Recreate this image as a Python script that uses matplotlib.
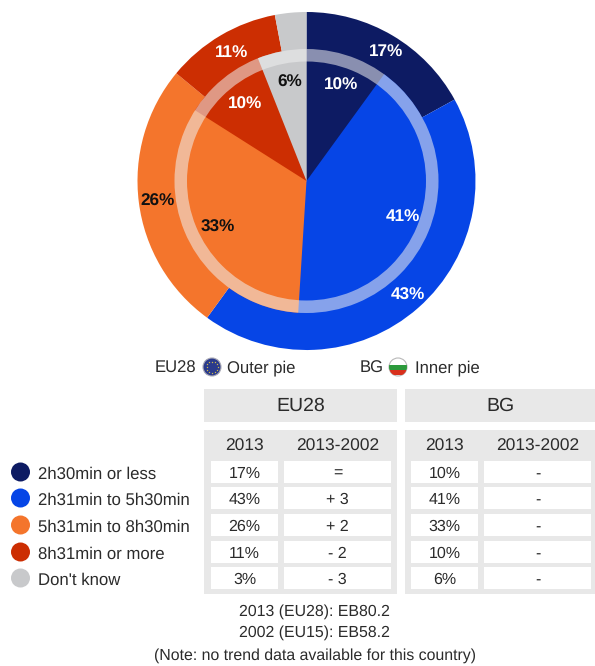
import numpy as np
import matplotlib
matplotlib.use('Agg')
import matplotlib.pyplot as plt
from matplotlib.patches import Rectangle, Circle, Wedge

plt.rcParams['font.family'] = ['Liberation Sans', 'DejaVu Sans']
plt.rcParams['text.hinting'] = 'no_hinting'

# Data
categories = ['2h30min or less', '2h31min to 5h30min', '5h31min to 8h30min', '8h31min or more', "Don't know"]
colors = ['#0d1b63', '#0645e6', '#f4752c', '#cc2e02', '#c8c9cb']
eu_values = [17, 43, 26, 11, 3]
bg_values = [10, 41, 33, 10, 6]
eu_trend = ['=', '+ 3', '+ 2', '- 2', '- 3']
bg_trend = ['-', '-', '-', '-', '-']
eu_labels = ['17%', '43%', '26%', '11%', '']
bg_labels = ['10%', '41%', '33%', '10%', '6%']
label_colors = ['white', 'white', '#111111', 'white', '#111111']
notes = ['2013 (EU28): EB80.2', '2002 (EU15): EB58.2', '(Note: no trend data available for this country)']

W, H = 595, 666
fig = plt.figure(figsize=(W / 100, H / 100), dpi=100)
ax = fig.add_axes([0, 0, 1, 1])
ax.set_xlim(0, W)
ax.set_ylim(H, 0)
ax.axis('off')

text_col = '#2b2b2b'
grey = '#e8e8e8'
cx, cy = 306.5, 181
outer_r, inner_r = 169, 132


def draw_pie(values, radius):
    # y axis is flipped, so angles run clockwise from 12 o'clock
    start = -90
    for v, c in zip(values, colors):
        end = start + v / sum(values) * 360
        ax.add_patch(Wedge((cx, cy), radius, start, end, fc=c, ec='none'))
        start = end


def pie_label(txt, x, y, col):
    ax.text(x, y, txt, color=col, fontsize=12.3, fontweight='bold', ha='center', va='center')


draw_pie(eu_values, outer_r)
draw_pie(bg_values, inner_r)
# pale ring around the inner pie
ax.add_patch(Wedge((cx, cy), inner_r, 0, 360, width=12.5, fc='#f0f0f0', ec='none', alpha=0.55))

eu_pos = [(386, 51), (408, 295), (158, 201), (232, 52)]
for txt, (x, y), col in zip(eu_labels, eu_pos, label_colors):
    pie_label(txt, x, y, col)
bg_pos = [(341, 85), (403, 216), (218, 227), (245, 104), (290, 82)]
for txt, (x, y), col in zip(bg_labels, bg_pos, label_colors):
    pie_label(txt, x, y, col)

# pie key
ax.text(155, 368, 'EU28', fontsize=12, color=text_col, va='center')
ax.add_patch(Circle((212, 367), 9, fc='#2a3a8c', ec='#a8a8b4', lw=0.8))
for a in np.arange(0, 360, 30):
    ax.plot(212 + 5.5 * np.cos(np.radians(a)), 367 + 5.5 * np.sin(np.radians(a)), 'o', ms=1, color='#c9b84a', mew=0)
ax.text(227, 368, 'Outer pie', fontsize=12, color=text_col, va='center')
ax.text(360, 368, 'BG', fontsize=12, color=text_col, va='center')
flag = Circle((398, 367), 9, fc='white', ec='#b8b8b8', lw=0.8)
ax.add_patch(flag)
for y0, c in [(364.5, '#2c9a3c'), (369.5, '#d8301c')]:
    stripe = Rectangle((388, y0), 20, 5.5, fc=c, ec='none')
    ax.add_patch(stripe)
    stripe.set_clip_path(flag)
ax.text(415, 368, 'Inner pie', fontsize=12, color=text_col, va='center')

# table panels
for x0, x1, name in [(204, 397, 'EU28'), (405, 595, 'BG')]:
    ax.add_patch(Rectangle((x0, 389), x1 - x0, 33, fc=grey, ec='none'))
    ax.add_patch(Rectangle((x0, 430), x1 - x0, 164, fc=grey, ec='none'))
    ax.text((x0 + x1) / 2, 406, name, fontsize=14, color=text_col, ha='center', va='center')

row_y = [472, 498, 525, 552, 578]
columns = [
    (211, 278, [f'{v}%' for v in eu_values]),
    (284, 391, eu_trend),
    (411, 478, [f'{v}%' for v in bg_values]),
    (484, 591, bg_trend),
]
for (x0, x1, vals), head in zip(columns, ['2013', '2013-2002', '2013', '2013-2002']):
    ax.text((x0 + x1) / 2, 446, head, fontsize=12.5, color=text_col, ha='center', va='center')
    for y, v in zip(row_y, vals):
        ax.add_patch(Rectangle((x0, y - 11), x1 - x0, 22, fc='white', ec='none'))
        ax.text((x0 + x1) / 2, y + 2, v, fontsize=11.5, color=text_col, ha='center', va='center')

# legend
for y, c, name in zip(row_y, colors, categories):
    ax.add_patch(Circle((20.5, y), 9.5, fc=c, ec='none'))
    ax.text(38, y + 2, name, fontsize=12.1, color=text_col, va='center')

# notes
for y, n in zip([612, 633, 656], notes):
    ax.text(314.5, y, n, fontsize=11.4, color=text_col, ha='center', va='center')

fig.savefig('out.png', dpi=100)
